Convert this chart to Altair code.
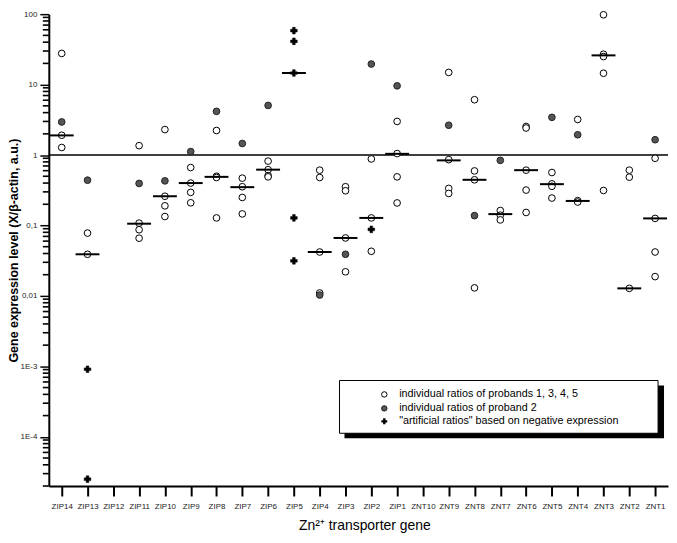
import altair as alt
import pandas as pd

genes = ["ZIP14", "ZIP13", "ZIP12", "ZIP11", "ZIP10", "ZIP9", "ZIP8", "ZIP7", "ZIP6",
         "ZIP5", "ZIP4", "ZIP3", "ZIP2", "ZIP1", "ZNT10", "ZNT9", "ZNT8", "ZNT7",
         "ZNT6", "ZNT5", "ZNT4", "ZNT3", "ZNT2", "ZNT1"]

# individual ratios of probands 1, 3, 4, 5 (open circles)
open_genes = (["ZIP14"] * 3 + ["ZIP13"] * 2 + ["ZIP11"] * 4 + ["ZIP10"] * 4 + ["ZIP9"] * 4 +
              ["ZIP8"] * 4 + ["ZIP7"] * 4 + ["ZIP6"] * 4 + ["ZIP4"] * 4 + ["ZIP3"] * 4 +
              ["ZIP2"] * 3 + ["ZIP1"] * 4 + ["ZNT9"] * 4 + ["ZNT8"] * 4 + ["ZNT7"] * 3 +
              ["ZNT6"] * 5 + ["ZNT5"] * 4 + ["ZNT4"] * 3 + ["ZNT3"] * 5 + ["ZNT2"] * 3 +
              ["ZNT1"] * 4)
open_values = [27.7, 1.91, 1.28,
               0.078, 0.039,
               1.36, 0.108, 0.087, 0.066,
               2.3, 0.26, 0.19, 0.134,
               0.665, 0.40, 0.295, 0.21,
               2.23, 0.50, 0.48, 0.128,
               0.47, 0.355, 0.25, 0.146,
               0.82, 0.62, 0.51, 0.49,
               0.61, 0.48, 0.042, 0.011,
               0.355, 0.311, 0.0665, 0.022,
               0.88, 0.128, 0.043,
               3.0, 1.05, 0.49, 0.209,
               14.9, 0.86, 0.336, 0.285,
               6.1, 0.595, 0.445, 0.013,
               0.163, 0.14, 0.12,
               2.54, 2.42, 0.61, 0.318, 0.153,
               0.565, 0.39, 0.36, 0.245,
               3.2, 0.225, 0.215,
               98.0, 27.0, 25.0, 14.5, 0.314,
               0.61, 0.485, 0.0128,
               0.90, 0.126, 0.042, 0.0188]

# individual ratios of proband 2 (filled circles)
filled_genes = ["ZIP14", "ZIP13", "ZIP11", "ZIP10", "ZIP9", "ZIP8", "ZIP7", "ZIP6", "ZIP4",
                "ZIP3", "ZIP2", "ZIP1", "ZNT9", "ZNT8", "ZNT7", "ZNT5", "ZNT4", "ZNT1"]
filled_values = [2.95, 0.44, 0.395, 0.43, 1.12, 4.17, 1.46, 5.06, 0.0103,
                 0.039, 19.6, 9.6, 2.65, 0.138, 0.84, 3.43, 1.94, 1.65]

# "artificial ratios" based on negative expression (crosses)
cross_genes = ["ZIP13", "ZIP13", "ZIP5", "ZIP5", "ZIP5", "ZIP5", "ZIP5", "ZIP2"]
cross_values = [0.00091, 0.000025, 58.4, 41.2, 14.6, 0.128, 0.0315, 0.088]

# medians (horizontal bars)
median_genes = ["ZIP14", "ZIP13", "ZIP11", "ZIP10", "ZIP9", "ZIP8", "ZIP7", "ZIP6", "ZIP5",
                "ZIP4", "ZIP3", "ZIP2", "ZIP1", "ZNT9", "ZNT8", "ZNT7", "ZNT6", "ZNT5",
                "ZNT4", "ZNT3", "ZNT2", "ZNT1"]
median_values = [1.9, 0.039, 0.106, 0.26, 0.40, 0.49, 0.35, 0.62, 14.6,
                 0.042, 0.0665, 0.128, 1.04, 0.84, 0.445, 0.145, 0.61, 0.386,
                 0.223, 26.0, 0.0128, 0.126]

reference_value = [1.0]

legend_labels = ["individual ratios of probands 1, 3, 4, 5",
                 "individual ratios of proband 2",
                 "\"artificial ratios\" based on negative expression"]

major_ticks = [100.0, 10.0, 1.0, 0.1, 0.01, 0.001, 0.0001]
major_labels = ["100", "10", "1", "0,1", "0,01", "1E-3", "1E-4"]

FONT = "Liberation Sans"

# minor tick positions (2..9 within each decade)
minor_ticks = []
for k in range(-5, 2):
    for m in range(2, 10):
        v = float(f"{m}e{k}")
        if 2e-5 - 1e-12 <= v <= 100:
            minor_ticks.append(v)

label_expr = " : ".join(
    f"datum.value > {v * 0.5} ? '{lab}'" for v, lab in zip(major_ticks, major_labels)
) + " : ''"

x_enc = alt.X(
    "gene:N",
    scale=alt.Scale(type="point", domain=genes, padding=0.5),
    axis=alt.Axis(
        title="Zn²⁺ transporter gene", labelAngle=0, labelFont=FONT, labelFontSize=8,
        labelColor="#222", labelPadding=7, tickSize=10, tickWidth=2, tickColor="black",
        domainColor="black", domainWidth=2, titleFont=FONT, titleFontSize=14,
        titleFontWeight="normal", titleColor="black", titleX=317, titleY=40,
        titleBaseline="middle", grid=False,
    ),
)

y_scale = alt.Scale(type="log", domain=[2e-5, 100], nice=False)
y_enc = alt.Y(
    "value:Q",
    scale=y_scale,
    axis=alt.Axis(
        title="Gene expression level (X/β-actin, a.u.)", values=major_ticks,
        labelExpr=label_expr, labelFont=FONT, labelFontSize=8, labelColor="#222",
        labelPadding=3, tickColor="black", tickWidth=1.5, tickSize=9,
        domainColor="black", domainWidth=2, titleFont=FONT, titleFontSize=12.5,
        titleFontWeight="bold", titleColor="black", titleX=-35, titleY=237,
        titleBaseline="middle", grid=False, labelOverlap=False,
    ),
)

def frame(g, v):
    return pd.DataFrame({"gene": g, "value": v})

# minor ticks of the log axis, drawn just left of the axis line
minor = alt.Chart(pd.DataFrame({"value": minor_ticks})).mark_rule(
    color="black", strokeWidth=1.6, opacity=1
).encode(x=alt.value(-6), x2=alt.value(0), y=alt.Y("value:Q", scale=y_scale))

ref = alt.Chart(frame(["ZIP14"], reference_value)).mark_rule(
    color="black", strokeWidth=1.5
).encode(y=y_enc)

opens = alt.Chart(frame(open_genes, open_values)).mark_point(
    shape="circle", filled=True, fill="white", stroke="black", strokeWidth=1,
    size=45, opacity=1
).encode(x=x_enc, y=y_enc)

filled = alt.Chart(frame(filled_genes, filled_values)).mark_point(
    shape="circle", filled=True, fill="#555555", stroke="#222222", strokeWidth=1,
    size=45, opacity=1
).encode(x=x_enc, y=y_enc)

crosses = alt.Chart(frame(cross_genes, cross_values)).mark_point(
    shape="cross", filled=True, fill="black", stroke="black", strokeWidth=0.5,
    size=45, opacity=1
).encode(x=x_enc, y=y_enc)

medians = alt.Chart(frame(median_genes, median_values)).mark_tick(
    orient="horizontal", size=24, thickness=2, color="black", opacity=1
).encode(x=x_enc, y=y_enc)

one = pd.DataFrame({"a": [0]})
shadow = alt.Chart(one).mark_rect(color="black").encode(
    x=alt.value(297), x2=alt.value(618), y=alt.value(373), y2=alt.value(426))
box = alt.Chart(one).mark_rect(fill="white", stroke="black", strokeWidth=1).encode(
    x=alt.value(292), x2=alt.value(612), y=alt.value(368), y2=alt.value(421))

row_y = [382, 396, 409]
leg_open = alt.Chart(one).mark_point(
    shape="circle", filled=True, fill="white", stroke="black", strokeWidth=1, size=30, opacity=1
).encode(x=alt.value(337), y=alt.value(row_y[0]))
leg_filled = alt.Chart(one).mark_point(
    shape="circle", filled=True, fill="#555555", stroke="#222222", strokeWidth=1, size=30, opacity=1
).encode(x=alt.value(337), y=alt.value(row_y[1]))
leg_cross = alt.Chart(one).mark_point(
    shape="cross", filled=True, fill="black", size=35, opacity=1
).encode(x=alt.value(337), y=alt.value(row_y[2]))

texts = [
    alt.Chart(one).mark_text(align="left", baseline="middle", font=FONT, fontSize=10.8,
                             color="black").encode(
        x=alt.value(352), y=alt.value(row_y[i]), text=alt.value(legend_labels[i]))
    for i in range(3)
]

chart = alt.layer(
    ref, opens, filled, crosses, medians, minor, shadow, box,
    leg_open, leg_filled, leg_cross, *texts
).properties(
    width=622, height=474,
    padding=0,
    background="white",
).configure_view(strokeWidth=0)

chart.save("out.html", embed_options={"renderer": "svg", "actions": False})
